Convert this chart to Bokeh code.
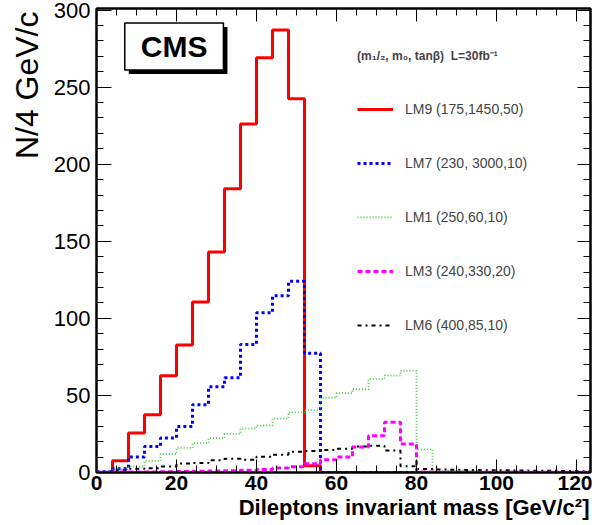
import numpy as np
from bokeh.plotting import figure
from bokeh.models import (LinearAxis, FixedTicker, Range1d, Label, Legend, LegendItem, Title)
from bokeh.embed import file_html
from bokeh.resources import INLINE

# ---------------- data ----------------
bin_edges = list(range(0, 128, 4))          # 0..124, 31 bins of 4 GeV/c
lm9 = [0, 7.6, 25.7, 37.4, 62.8, 82.7, 110.6, 143, 184, 226, 269, 287, 242.5, 4.3,
       0, 0, 0, 0, 0, 0, 0, 0, 0, 0, 0, 0, 0, 0, 0, 0, 0]
lm7 = [0.5, 2.4, 10, 16.8, 22.3, 29.8, 44, 55.7, 61.5, 83, 103.6, 114.6, 124, 77.3,
       0, 0, 0, 0, 0, 0, 0, 0, 0, 0, 0, 0, 0, 0, 0, 0, 0]
lm1 = [0.5, 2, 4, 7.5, 12, 16, 19, 22.3, 25, 28.5, 30.5, 35, 39, 40.5, 48.5, 51.5,
       54, 60.7, 62.8, 66, 15, 1.2, 1.0, 0.8, 0.6, 0.5, 0.4, 0.4, 0.3, 0.3, 0.2]
lm3 = [0.2, 0.3, 0.3, 0.4, 0.5, 0.6, 0.8, 1.0, 1.2, 1.4, 2.0, 3.0, 3.8, 5.6, 8.2,
       10, 16.6, 23.8, 32.6, 18.5, 0.3, 0.2, 0.2, 0.2, 0.2, 0.2, 0.2, 0.2, 0.2, 0.2, 0.2]
lm6 = [0.3, 1.5, 2.4, 2.8, 3.9, 5.8, 6.2, 8, 8.9, 8.2, 10.2, 11.5, 13.5, 13.9, 14.6,
       15.4, 16.8, 17.3, 14.2, 4, 2.3, 2, 1.8, 1.6, 1.5, 1.4, 1.3, 1.2, 1.1, 1.0, 0.8]

series_names = ["LM9 (175,1450,50)", "LM7 (230, 3000,10)", "LM1 (250,60,10)",
                "LM3 (240,330,20)", "LM6 (400,85,10)"]
x_title = "Dileptons invariant mass [GeV/c\u00b2]"
y_title = "N/4 GeV/c"
x_major = [0, 20, 40, 60, 80, 100, 120]
x_minor = list(range(0, 125, 5))
y_major = [0, 50, 100, 150, 200, 250, 300]
y_minor = list(range(0, 301, 10))

FONT = "Liberation Sans"

p = figure(frame_width=494, frame_height=464,
           x_range=Range1d(0, 123.5), y_range=Range1d(0, 301),
           output_backend="svg", toolbar_location=None,
           x_axis_location=None, y_axis_location=None,
           min_border_left=96, min_border_right=2,
           min_border_top=8, min_border_bottom=53)
p.grid.visible = False
p.background_fill_color = "white"
p.border_fill_color = "white"
p.outline_line_color = "black"
p.outline_line_width = 2


def make_axis(ticks, minor, major_in, labels, bold=False, size="22px"):
    ax = LinearAxis(ticker=FixedTicker(ticks=ticks, minor_ticks=minor))
    ax.axis_line_width = 2
    ax.axis_line_color = "black"
    ax.major_tick_in = major_in
    ax.major_tick_out = 0
    ax.minor_tick_in = 7
    ax.minor_tick_out = 0
    ax.major_tick_line_color = "black"
    ax.minor_tick_line_color = "black"
    ax.major_tick_line_width = 1
    ax.minor_tick_line_width = 1
    if labels:
        ax.major_label_text_font = FONT
        ax.major_label_text_font_size = size
        ax.major_label_text_color = "black"
        if bold:
            ax.major_label_text_font_style = "bold"
    else:
        ax.major_label_text_font_size = "4px"
        ax.major_label_text_color = None
        ax.major_label_standoff = 0
    return ax


xb = make_axis(x_major, x_minor, 13, True, bold=True, size="21px")
xb.major_label_standoff = 3
p.add_layout(xb, "below")
yl = make_axis(y_major, y_minor, 15, True, size="22px")
yl.major_label_standoff = 6
p.add_layout(yl, "left")
p.add_layout(make_axis(x_major, x_minor, 13, False), "above")
p.add_layout(make_axis(y_major, y_minor, 13, False), "right")

# axis titles (top / right aligned as in the original)
p.add_layout(Title(text=y_title, align="right", text_font=FONT,
                   text_font_size="32px", text_font_style="normal",
                   text_color="black", standoff=11, offset=3), "left")
p.add_layout(Title(text=x_title, align="right",
                   text_font=FONT, text_font_size="22px", text_font_style="bold",
                   text_color="black", standoff=0, offset=1), "below")


def ext(v):
    return list(v) + [v[-1]]


r9 = p.step(bin_edges, ext(lm9), mode="after", line_color="#ff0000", line_width=3)
r7 = p.step(bin_edges, ext(lm7), mode="after", line_color="#0000ff", line_width=3,
            line_dash="3 3")
r1 = p.step(bin_edges, ext(lm1), mode="after", line_color="#44cc44", line_width=1.8,
            line_dash="1 2")
r6 = p.step(bin_edges, ext(lm6), mode="after", line_color="black", line_width=2,
            line_dash="4 4 2 4")
r3 = p.step(bin_edges, ext(lm3), mode="after", line_color="#ff00ff", line_width=3,
            line_dash="5 3")

legend = Legend(items=[LegendItem(label=series_names[0], renderers=[r9]),
                       LegendItem(label=series_names[1], renderers=[r7]),
                       LegendItem(label=series_names[2], renderers=[r1]),
                       LegendItem(label=series_names[3], renderers=[r3]),
                       LegendItem(label=series_names[4], renderers=[r6])],
                location=(261, 137),
                title="(m\u2081/\u2082, m\u2080, tan\u03b2)  L=30fb\u207b\u00b9")
legend.border_line_alpha = 0
legend.background_fill_alpha = 0
legend.padding = 0
legend.margin = 0
legend.spacing = 34
legend.glyph_width = 36
legend.glyph_height = 20
legend.label_height = 20
legend.label_standoff = 12
legend.label_text_font = FONT
legend.label_text_font_size = "14px"
legend.title_text_font = FONT
legend.title_text_font_size = "12px"
legend.title_text_font_style = "bold"
legend.title_standoff = 35
p.add_layout(legend)

# CMS box with shadow
pad = dict(left=16, right=16, top=7, bottom=7)
p.add_layout(Label(x=19.4, y=276.4, text="CMS", text_align="center",
                   text_baseline="middle", text_font=FONT, text_font_size="30px",
                   text_font_style="bold", text_color="black",
                   background_fill_color="black", padding=pad,
                   x_offset=4, y_offset=-4))
p.add_layout(Label(x=19.4, y=276.4, text="CMS", text_align="center",
                   text_baseline="middle", text_font=FONT, text_font_size="30px",
                   text_font_style="bold", text_color="black",
                   background_fill_color="white", border_line_color="black",
                   border_line_width=1.5, padding=pad))

open("out.html", "w").write(file_html(p, INLINE))
